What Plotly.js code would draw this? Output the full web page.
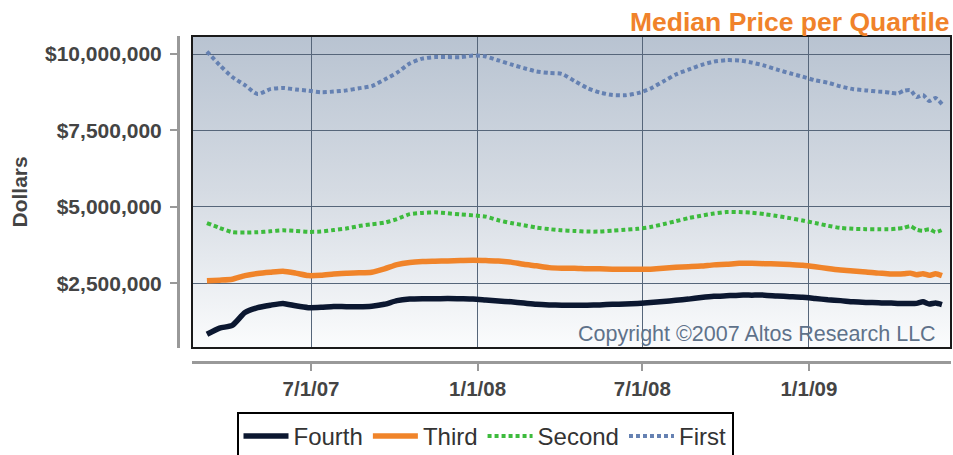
<!DOCTYPE html>
<html><head><meta charset="utf-8">
<script src="https://cdn.plot.ly/plotly-3.0.1.min.js"></script>
<style>html,body{margin:0;padding:0;background:#fff}#chart{width:953px;height:455px}</style>
</head><body><div id="chart"></div>
<script>
// Dates (biweekly, then weekly at the end)
const dates = [
 '2007-03-08','2007-03-22','2007-04-05','2007-04-19','2007-05-03','2007-05-17','2007-05-31','2007-06-14','2007-06-28','2007-07-12',
 '2007-07-26','2007-08-09','2007-08-23','2007-09-06','2007-09-20','2007-10-04','2007-10-18','2007-11-01','2007-11-15','2007-11-29',
 '2007-12-13','2007-12-27','2008-01-10','2008-01-24','2008-02-07','2008-02-21','2008-03-06','2008-03-20','2008-04-03','2008-04-17',
 '2008-05-01','2008-05-15','2008-05-29','2008-06-12','2008-06-26','2008-07-10','2008-07-24','2008-08-07','2008-08-21','2008-09-04',
 '2008-09-18','2008-10-02','2008-10-16','2008-10-30','2008-11-13','2008-11-27','2008-12-11','2008-12-25','2009-01-08','2009-01-22',
 '2009-02-05','2009-02-19','2009-03-05','2009-03-19',
 '2009-03-26','2009-04-02','2009-04-09','2009-04-16','2009-04-23','2009-04-30','2009-05-07','2009-05-14','2009-05-21','2009-05-28'
];
// Median prices in millions of dollars
const firstM = [
 10.08,9.64,9.25,8.98,8.69,8.85,8.89,8.84,8.80,8.75,
 8.77,8.81,8.88,8.95,9.16,9.39,9.69,9.85,9.90,9.90,
 9.90,9.95,9.92,9.79,9.66,9.54,9.43,9.38,9.35,9.12,
 8.89,8.74,8.66,8.65,8.72,8.87,9.10,9.33,9.49,9.64,
 9.75,9.80,9.79,9.72,9.62,9.49,9.37,9.26,9.14,9.06,
 8.94,8.85,8.81,8.77,
 8.76,8.73,8.71,8.80,8.82,8.59,8.66,8.46,8.56,8.36
];
const secondM = [
 4.47,4.31,4.17,4.16,4.17,4.20,4.23,4.21,4.18,4.19,
 4.24,4.29,4.37,4.43,4.48,4.60,4.76,4.80,4.82,4.79,
 4.75,4.72,4.68,4.56,4.47,4.40,4.32,4.27,4.23,4.21,
 4.19,4.19,4.22,4.25,4.28,4.34,4.43,4.53,4.63,4.71,
 4.78,4.83,4.83,4.81,4.76,4.70,4.63,4.55,4.47,4.38,
 4.31,4.28,4.27,4.27,
 4.27,4.27,4.29,4.31,4.37,4.25,4.22,4.27,4.17,4.24
];
const thirdM = [
 2.58,2.60,2.63,2.75,2.82,2.86,2.89,2.83,2.75,2.76,
 2.80,2.83,2.84,2.86,2.97,3.11,3.18,3.21,3.22,3.23,
 3.24,3.25,3.24,3.23,3.19,3.12,3.07,3.01,2.99,2.99,
 2.97,2.97,2.96,2.96,2.96,2.96,2.99,3.02,3.04,3.06,
 3.10,3.12,3.15,3.15,3.14,3.13,3.11,3.09,3.04,2.98,
 2.93,2.90,2.87,2.83,
 2.82,2.80,2.80,2.81,2.83,2.78,2.81,2.76,2.81,2.75
];
const fourthM = [
 0.83,1.03,1.12,1.54,1.70,1.78,1.84,1.76,1.70,1.71,
 1.74,1.73,1.73,1.75,1.81,1.93,1.98,1.99,1.99,2.00,
 1.99,1.98,1.95,1.92,1.89,1.85,1.81,1.79,1.78,1.78,
 1.78,1.79,1.81,1.82,1.84,1.87,1.90,1.94,1.98,2.03,
 2.07,2.09,2.11,2.11,2.11,2.08,2.06,2.04,2.00,1.96,
 1.93,1.89,1.87,1.86,
 1.85,1.85,1.84,1.84,1.84,1.84,1.89,1.82,1.85,1.80
];
const seriesNames = ['Fourth','Third','Second','First'];
const xTickVals = ['2007-07-01','2008-01-01','2008-07-01','2009-01-01'];
const xTickText = ['7/1/07','1/1/08','7/1/08','1/1/09'];
const yTickVals = [2500000,5000000,7500000,10000000];
const yTickText = ['$2,500,000','$5,000,000','$7,500,000','$10,000,000'];

const toDollars = a => a.map(v => v * 1e6);
const FONT = '"Liberation Sans", Arial, Helvetica, sans-serif';

const traces = [
 {x: dates, y: toDollars(fourthM), name: seriesNames[0], mode: 'lines',
  line: {color: '#0b1730', width: 5.5, shape: 'spline', smoothing: 0.6}},
 {x: dates, y: toDollars(thirdM), name: seriesNames[1], mode: 'lines',
  line: {color: '#f0842a', width: 5.5, shape: 'spline', smoothing: 0.6}},
 {x: dates, y: toDollars(secondM), name: seriesNames[2], mode: 'lines',
  line: {color: '#3dbb3d', width: 4, dash: '4px,3px', shape: 'spline', smoothing: 0.6}},
 {x: dates, y: toDollars(firstM), name: seriesNames[3], mode: 'lines',
  line: {color: '#6581b2', width: 4, dash: '4px,3px', shape: 'spline', smoothing: 0.6}}
];

const svg = '<svg xmlns="http://www.w3.org/2000/svg" width="100" height="100" preserveAspectRatio="none">' +
 '<defs><linearGradient id="g" x1="0" y1="0" x2="0" y2="1">' +
 '<stop offset="0" stop-color="#b8c3d1"/><stop offset="0.5" stop-color="#d5dbe3"/><stop offset="1" stop-color="#fbfcfd"/>' +
 '</linearGradient></defs><rect width="100" height="100" fill="url(#g)"/></svg>';
const bgSrc = 'data:image/svg+xml;charset=utf-8,' + encodeURIComponent(svg);

const W = 953, H = 455;
const mL = 178, mR = 2, mT = 36, mB = 93;
const pw = W - mL - mR, ph = H - mT - mB;
const px = v => (v - mL) / pw;
const py = v => (H - mB - v) / ph;

const layout = {
 width: W, height: H,
 margin: {l: mL, r: mR, t: mT, b: mB, pad: 0, autoexpand: false},
 paper_bgcolor: '#ffffff',
 plot_bgcolor: 'rgba(0,0,0,0)',
 font: {family: FONT, color: '#444'},
 showlegend: true,
 hovermode: false,
 xaxis: {
  type: 'date', domain: [px(192), 1], anchor: 'free', position: 0,
  range: ['2007-02-19 12:00', '2009-06-07'],
  tickvals: xTickVals, ticktext: xTickText,
  tickfont: {family: FONT, size: 20.5, color: '#444', weight: 'bold'},
  showline: true, linecolor: '#999', linewidth: 3,
  ticks: 'outside', ticklen: 7, tickcolor: '#999', tickwidth: 2,
  showgrid: true, gridcolor: '#56667a', gridwidth: 1, zeroline: false,
  automargin: false, fixedrange: true
 },
 yaxis: {
  domain: [py(348), 1], anchor: 'free', position: 0,
  range: [380000, 10590000],
  tickvals: yTickVals, ticktext: yTickText,
  tickfont: {family: FONT, size: 21, color: '#444', weight: 'bold'},
  showline: true, linecolor: '#999', linewidth: 3,
  ticks: 'outside', ticklen: 7, tickcolor: '#999', tickwidth: 2,
  showgrid: true, gridcolor: '#56667a', gridwidth: 1, zeroline: false,
  ticklabelstandoff: 4,
  automargin: false, fixedrange: true
 },
 images: [{source: bgSrc, xref: 'x domain', yref: 'y domain', x: 0, y: 1, sizex: 1, sizey: 1,
   xanchor: 'left', yanchor: 'top', sizing: 'stretch', layer: 'below'}],
 shapes: [{type: 'rect', xref: 'x domain', yref: 'y domain', x0: 0, x1: 1, y0: 0, y1: 1,
   line: {color: '#1a1a1a', width: 2}, fillcolor: 'rgba(0,0,0,0)', layer: 'above'}],
 annotations: [
  {text: 'Median Price per Quartile', xref: 'paper', yref: 'paper', x: px(952), y: py(22),
   xanchor: 'right', yanchor: 'middle', showarrow: false,
   font: {family: FONT, size: 26.5, color: '#f0822a', weight: 'bold'}},
  {text: 'Dollars', xref: 'paper', yref: 'paper', x: px(18.5), y: py(192), textangle: -90,
   xanchor: 'center', yanchor: 'middle', showarrow: false,
   font: {family: FONT, size: 21, color: '#444', weight: 'bold'}},
  {text: 'Copyright \u00a92007 Altos Research LLC', xref: 'paper', yref: 'paper', x: px(938), y: py(334),
   xanchor: 'right', yanchor: 'middle', showarrow: false,
   font: {family: FONT, size: 21.5, color: '#5f728a'}}
 ],
 legend: {
  orientation: 'h', x: px(485), xanchor: 'center', y: py(412), yanchor: 'top',
  bgcolor: '#ffffff', bordercolor: '#000000', borderwidth: 2,
  font: {family: FONT, size: 24, color: '#333'},
  itemwidth: 45, traceorder: 'normal', tracegroupgap: 0
 }
};

Plotly.newPlot('chart', traces, layout, {displayModeBar: false, staticPlot: true});
</script>
</body></html>
